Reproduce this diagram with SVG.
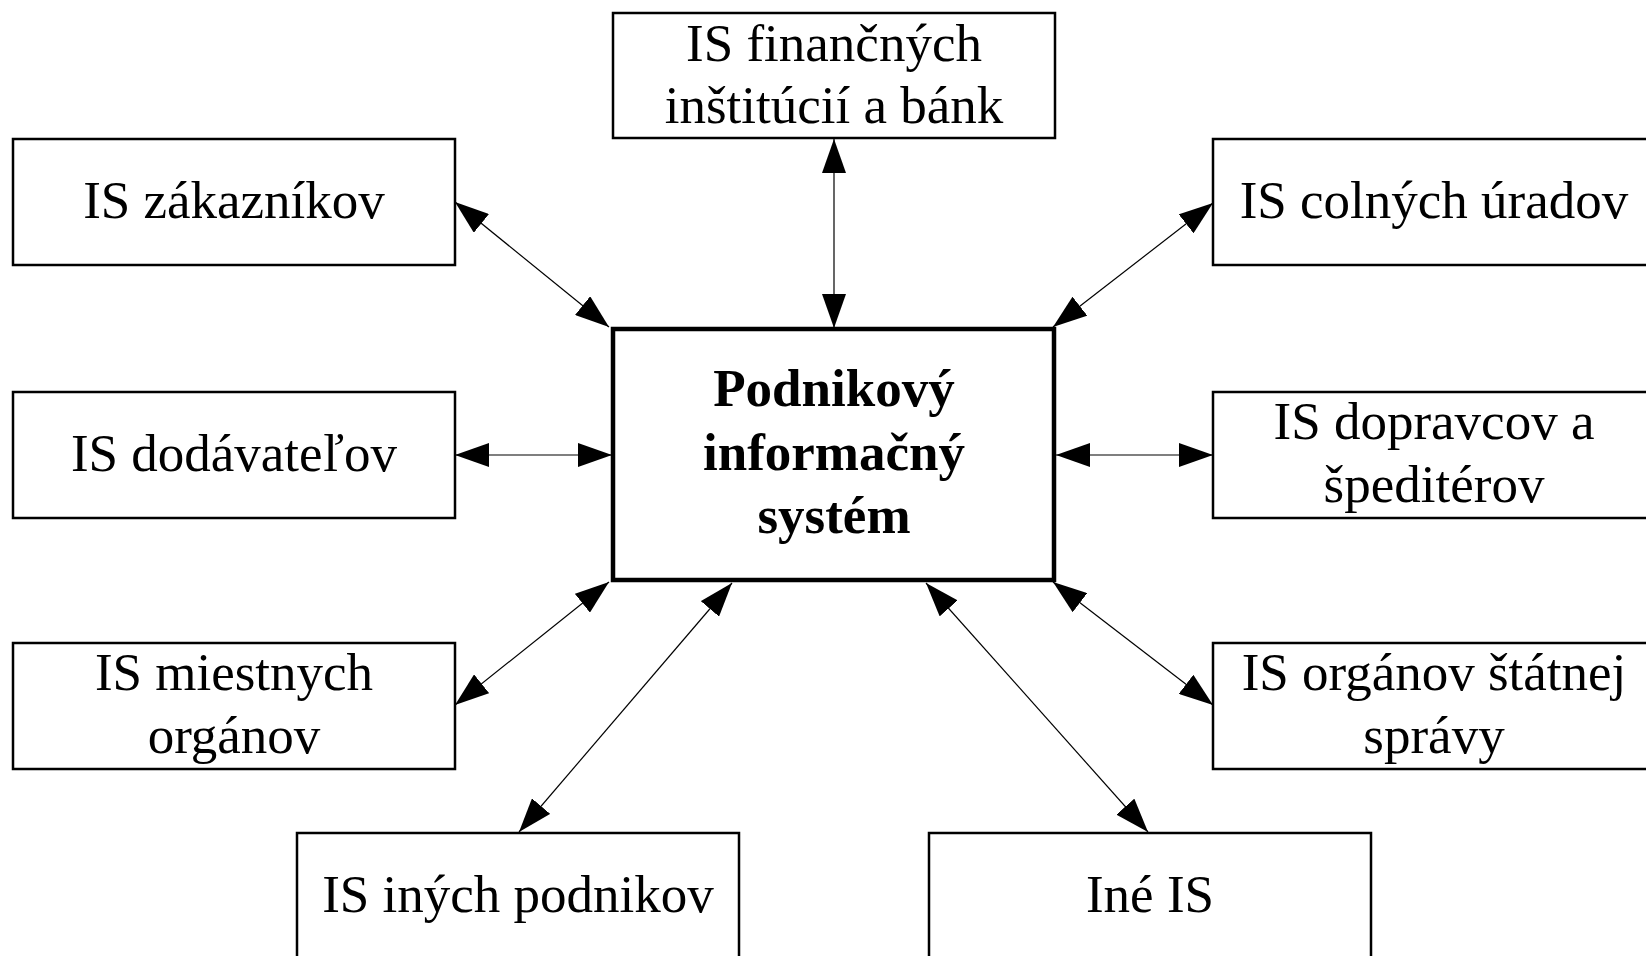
<svg xmlns="http://www.w3.org/2000/svg" width="1646" height="956" viewBox="0 0 1646 956">
  <style>
    .box { fill: #ffffff; stroke: #000000; stroke-width: 2.5; }
    .main { fill: #ffffff; stroke: #000000; stroke-width: 4.5; }
    .lbl { font-family: "Liberation Serif", "Times New Roman", serif; font-size: 53px; fill: #000000; text-anchor: middle; }
    .bold { font-weight: bold; }
    .link { stroke: #000000; stroke-width: 1.2; fill: none; marker-start: url(#head); marker-end: url(#head); }
  </style>
  <defs>
    <marker id="head" markerUnits="userSpaceOnUse" markerWidth="34" markerHeight="24" refX="34" refY="12" orient="auto-start-reverse">
      <path d="M0,0 L34,12 L0,24 z" fill="#000000"/>
    </marker>
  </defs>
  <rect width="1646" height="956" fill="#ffffff"/>

  <g id="connectors">
    <line class="link" x1="834" y1="139" x2="834" y2="328"/>
    <line class="link" x1="455" y1="202" x2="609" y2="327"/>
    <line class="link" x1="1213" y1="203" x2="1053" y2="327"/>
    <line class="link" x1="455" y1="455" x2="612" y2="455"/>
    <line class="link" x1="1213" y1="455" x2="1056" y2="455"/>
    <line class="link" x1="455" y1="705" x2="609" y2="582"/>
    <line class="link" x1="519" y1="832" x2="732" y2="583"/>
    <line class="link" x1="1148" y1="832" x2="926" y2="583"/>
    <line class="link" x1="1213" y1="705" x2="1053" y2="582"/>
  </g>

  <g id="node-financne">
    <rect class="box" x="613" y="13" width="442" height="125"/>
    <text class="lbl" x="834" y="61">IS finančných</text>
    <text class="lbl" x="834" y="123">inštitúcií a bánk</text>
  </g>

  <g id="node-zakaznici">
    <rect class="box" x="13" y="139" width="442" height="126"/>
    <text class="lbl" x="234" y="218">IS zákazníkov</text>
  </g>

  <g id="node-colne">
    <rect class="box" x="1213" y="139" width="445" height="126"/>
    <text class="lbl" x="1434" y="218">IS colných úradov</text>
  </g>

  <g id="node-podnik">
    <rect class="main" x="613" y="329" width="441" height="251"/>
    <text class="lbl bold" x="834" y="406">Podnikový</text>
    <text class="lbl bold" x="834" y="470">informačný</text>
    <text class="lbl bold" x="834" y="533">systém</text>
  </g>

  <g id="node-dodavatelia">
    <rect class="box" x="13" y="392" width="442" height="126"/>
    <text class="lbl" x="234" y="471">IS dodávateľov</text>
  </g>

  <g id="node-dopravcovia">
    <rect class="box" x="1213" y="392" width="445" height="126"/>
    <text class="lbl" x="1434" y="439">IS dopravcov a</text>
    <text class="lbl" x="1434" y="502">špeditérov</text>
  </g>

  <g id="node-miestne">
    <rect class="box" x="13" y="643" width="442" height="126"/>
    <text class="lbl" x="234" y="690">IS miestnych</text>
    <text class="lbl" x="234" y="753">orgánov</text>
  </g>

  <g id="node-statne">
    <rect class="box" x="1213" y="643" width="445" height="126"/>
    <text class="lbl" x="1434" y="690">IS orgánov štátnej</text>
    <text class="lbl" x="1434" y="753">správy</text>
  </g>

  <g id="node-podniky">
    <rect class="box" x="297" y="833" width="442" height="130"/>
    <text class="lbl" x="518" y="912">IS iných podnikov</text>
  </g>

  <g id="node-ine">
    <rect class="box" x="929" y="833" width="442" height="130"/>
    <text class="lbl" x="1150" y="912">Iné IS</text>
  </g>
</svg>
